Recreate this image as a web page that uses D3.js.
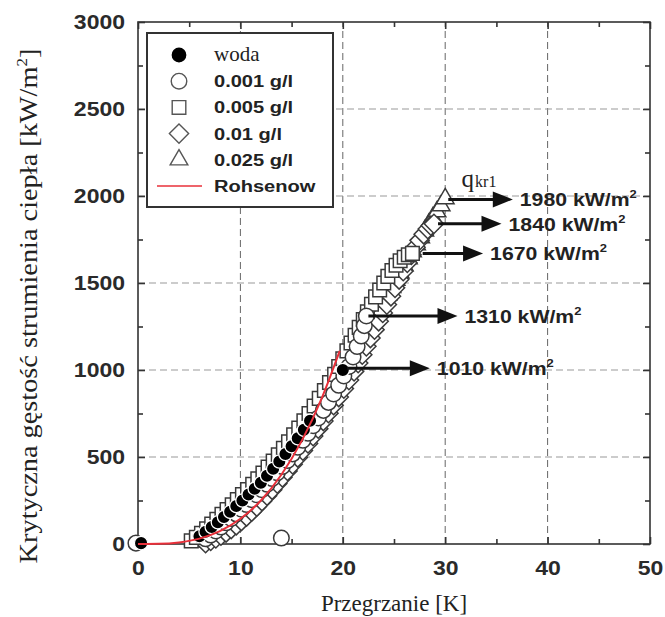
<!DOCTYPE html>
<html>
<head>
<meta charset="utf-8">
<script src="https://cdn.jsdelivr.net/npm/d3@7"></script>
<style>
  html, body { margin: 0; padding: 0; background: #fff; }
  svg { display: block; }
</style>
</head>
<body>
<svg id="chart" width="665" height="617"></svg>
<script>
// Superheat ΔT [K] vs. critical heat flux [kW/m²]
const xTicks = [0, 10, 20, 30, 40, 50];
const yTicks = [0, 500, 1000, 1500, 2000, 2500, 3000];

// woda (pure water)
const woda = [[0.3,5],[6.0,45],[6.6,70],[7.2,98],[7.8,125],[8.4,155],[9.0,185],[9.6,218],[10.2,250],[10.8,285],[11.4,318],[12.0,352],[12.6,392],[13.2,432],[13.8,474],[14.4,517],[15.0,562],[15.6,608],[16.2,656],[16.8,708],[20.0,1000]];
// 0.001 g/l
const c0001 = [[-0.2,5],[14.0,35],[6.6,30],[7.1,52],[7.6,75],[8.1,98],[8.6,122],[9.1,147],[9.6,173],[10.1,200],[10.6,227],[11.1,255],[11.6,283],[12.1,312],[12.6,343],[13.1,376],[13.6,410],[14.1,445],[14.6,480],[15.1,518],[15.6,556],[16.1,596],[16.6,637],[17.1,680],[17.6,724],[18.1,768],[18.6,814],[19.1,862],[19.6,912],[20.1,965],[20.6,1020],[21.0,1075],[21.4,1135],[21.8,1195],[22.1,1255],[22.3,1310]];
// 0.005 g/l
const c0005 = [[5.2,18],[5.7,38],[6.2,62],[6.7,88],[7.2,115],[7.7,142],[8.2,170],[8.7,198],[9.2,226],[9.7,255],[10.2,284],[10.7,313],[11.2,343],[11.7,375],[12.2,408],[12.7,442],[13.2,477],[13.7,513],[14.2,550],[14.7,588],[15.2,627],[15.7,667],[16.2,708],[16.7,750],[17.2,793],[17.7,837],[18.2,882],[18.7,928],[19.2,975],[19.6,1020],[20.0,1065],[20.4,1110],[20.8,1155],[21.2,1200],[21.6,1245],[22.0,1290],[22.4,1335],[22.8,1378],[23.2,1420],[23.6,1460],[24.0,1500],[24.4,1538],[24.8,1572],[25.2,1602],[25.6,1628],[26.0,1648],[26.4,1662],[26.8,1670]];
// 0.01 g/l
const c001 = [[6.6,5],[7.1,18],[7.6,32],[8.1,48],[8.6,66],[9.1,86],[9.6,108],[10.1,132],[10.6,158],[11.1,186],[11.6,215],[12.1,246],[12.6,278],[13.1,312],[13.6,347],[14.1,383],[14.6,420],[15.1,458],[15.6,497],[16.1,537],[16.6,578],[17.1,620],[17.6,663],[18.1,707],[18.6,752],[19.1,798],[19.6,845],[20.1,893],[20.6,942],[21.1,992],[21.5,1040],[21.9,1088],[22.3,1136],[22.7,1184],[23.1,1232],[23.5,1280],[23.9,1328],[24.3,1376],[24.7,1424],[25.1,1472],[25.5,1520],[25.9,1568],[26.3,1616],[26.7,1662],[27.1,1705],[27.5,1745],[27.9,1780],[28.3,1810],[28.6,1830],[28.9,1840]];
// 0.025 g/l
const c0025 = [[6.0,12],[6.5,30],[7.0,50],[7.5,72],[8.0,95],[8.5,120],[9.0,146],[9.5,173],[10.0,201],[10.5,230],[11.0,260],[11.5,291],[12.0,323],[12.5,356],[13.0,390],[13.5,425],[14.0,461],[14.5,498],[15.0,536],[15.5,575],[16.0,615],[16.5,656],[17.0,698],[17.5,741],[18.0,785],[18.5,830],[19.0,876],[19.5,923],[20.0,970],[20.4,1012],[20.8,1054],[21.2,1096],[21.6,1138],[22.0,1180],[22.4,1222],[22.8,1264],[23.2,1306],[23.6,1348],[24.0,1390],[24.4,1432],[24.8,1474],[25.2,1516],[25.6,1558],[26.0,1600],[26.4,1640],[26.8,1680],[27.2,1720],[27.6,1760],[28.0,1800],[28.4,1838],[28.8,1875],[29.2,1910],[29.6,1945],[30.0,1985]];
// Rohsenow correlation
const rohsenow = [[0,0],[2,1],[4,9],[6,31],[8,74],[10,145],[12,250],[14,398],[16,594],[18,846],[19.7,1110]];

// Critical heat flux annotations: value, arrow start ΔT, arrow tip ΔT
const chfValues = [1980, 1840, 1670, 1310, 1010];
const chfStart  = [30.3, 29.3, 27.8, 22.5, 20.4];
const chfTip    = [36.6, 35.5, 33.7, 31.2, 28.5];

const svg = d3.select("#chart");
const x = d3.scaleLinear([0, 50], [138, 650]);
const y = d3.scaleLinear([0, 3000], [544, 22]);

const SANS = "'Liberation Sans', Arial, sans-serif";
const SERIF = "'Liberation Serif', 'Times New Roman', serif";
const INK = "#222";
const STRETCH = 1.18;

// dashed grid
const grid = svg.append("g").attr("stroke-width", 1).attr("stroke-dasharray", "7,4");
grid.selectAll("line.v").data(xTicks.slice(1, -1)).join("line")
  .attr("stroke", "#666")
  .attr("x1", d => x(d)).attr("x2", d => x(d)).attr("y1", y(0)).attr("y2", y(3000));
grid.selectAll("line.h").data(yTicks.slice(1, -1)).join("line")
  .attr("stroke", "#999")
  .attr("x1", x(0)).attr("x2", x(50)).attr("y1", d => y(d)).attr("y2", d => y(d));

// inward ticks on all four sides
const minorX = d3.range(5, 50, 10), minorY = d3.range(250, 3000, 500);
function addAxis(axis, tf, major, minor, labels) {
  const g = svg.append("g").attr("transform", tf);
  g.call(axis.tickValues(major).tickSizeInner(-7).tickSizeOuter(0).tickFormat(labels ? d3.format("d") : ""));
  const gm = svg.append("g").attr("transform", tf);
  gm.call(axis.tickValues(minor).tickSizeInner(-5).tickSizeOuter(0).tickFormat(""));
  [g, gm].forEach(s => {
    s.select(".domain").remove();
    s.selectAll("line").attr("stroke", "#333").attr("stroke-width", 1.6);
  });
  return g;
}
const gx = addAxis(d3.axisBottom(x).tickPadding(17), `translate(0,${y(0)})`, xTicks, minorX, true);
addAxis(d3.axisTop(x), `translate(0,${y(3000)})`, xTicks, minorX, false);
const gy = addAxis(d3.axisLeft(y).tickPadding(11), `translate(${x(0)},0)`, yTicks, minorY, true);
addAxis(d3.axisRight(y), `translate(${x(50)},0)`, yTicks, minorY, false);
[gx, gy].forEach(g => g.selectAll("text")
  .attr("font-family", SANS).attr("font-weight", "bold").attr("font-size", 19.5)
  .attr("fill", "#2a2a2a").attr("transform", `scale(${STRETCH},1)`));

// frame
svg.append("rect").attr("x", x(0)).attr("y", y(3000))
  .attr("width", x(50) - x(0)).attr("height", y(0) - y(3000))
  .attr("fill", "none").attr("stroke", "#333").attr("stroke-width", 1.6);

// marker shapes
const squareDiamond = {
  draw(ctx, size) {
    const r = Math.sqrt(size / 2);
    ctx.moveTo(0, -r); ctx.lineTo(r, 0); ctx.lineTo(0, r); ctx.lineTo(-r, 0); ctx.closePath();
  }
};
const sym = {
  dot: d3.symbol(d3.symbolCircle, 140),
  circle: d3.symbol(d3.symbolCircle, 190),
  square: d3.symbol(d3.symbolSquare, 185),
  diamond: d3.symbol(squareDiamond, 185),
  triangle: d3.symbol(d3.symbolTriangle, 135)
};
function drawSeries(data, shape, fill, stroke, sw) {
  svg.append("g").selectAll("path").data(data).join("path")
    .attr("d", sym[shape]())
    .attr("transform", d => `translate(${x(d[0])},${y(d[1])})`)
    .attr("fill", fill).attr("stroke", stroke).attr("stroke-width", sw);
}
drawSeries(c0025, "triangle", "#fff", "#3a3a3a", 1.5);
drawSeries(c001, "diamond", "#fff", "#3a3a3a", 1.5);
drawSeries(c0005, "square", "#fff", "#3a3a3a", 1.5);
drawSeries(c0001, "circle", "#fff", "#3a3a3a", 1.5);
drawSeries(woda, "dot", "#000", "#fff", 1.3);

// Rohsenow curve
svg.append("path").datum(rohsenow)
  .attr("d", d3.line().x(d => x(d[0])).y(d => y(d[1])).curve(d3.curveMonotoneX))
  .attr("fill", "none").attr("stroke", "#e8303a").attr("stroke-width", 2);

// CHF arrows with value labels
chfValues.forEach((v, i) => {
  const yy = y(v), x0 = x(chfStart[i]), x1 = x(chfTip[i]);
  svg.append("line").attr("x1", x0).attr("x2", x1 - 14).attr("y1", yy).attr("y2", yy)
    .attr("stroke", "#111").attr("stroke-width", 3);
  svg.append("path").attr("d", `M${x1},${yy}L${x1 - 20},${yy - 8}L${x1 - 20},${yy + 8}Z`).attr("fill", "#111");
  const t = svg.append("g").attr("transform", `translate(${x1 + 7},${yy + 7}) scale(${STRETCH},1)`)
    .append("text").attr("font-family", SANS).attr("font-weight", "bold").attr("font-size", 18).attr("fill", INK);
  t.append("tspan").text(`${v} kW/m`);
  t.append("tspan").attr("font-size", 11).attr("dy", -8).text("2");
});

// q_kr1 label
const qk = svg.append("text").attr("x", x(31.6)).attr("y", y(2050)).attr("font-family", SERIF).attr("fill", INK);
qk.append("tspan").attr("font-size", 25).text("q");
qk.append("tspan").attr("font-size", 16).attr("dx", 1).text("kr1");

// legend
const leg = svg.append("g");
leg.append("rect").attr("x", 147).attr("y", 33).attr("width", 186).attr("height", 174)
  .attr("fill", "#fff").attr("stroke", "#333").attr("stroke-width", 2);
const legItems = [
  { label: "woda", shape: "dot", fill: "#000", stroke: "#000", serif: true },
  { label: "0.001 g/l", shape: "circle", fill: "#fff", stroke: "#555" },
  { label: "0.005 g/l", shape: "square", fill: "#fff", stroke: "#555" },
  { label: "0.01 g/l", shape: "diamond", fill: "#fff", stroke: "#555" },
  { label: "0.025 g/l", shape: "triangle", fill: "#fff", stroke: "#555" },
  { label: "Rohsenow", line: true }
];
legItems.forEach((it, i) => {
  const cy = 55 + i * 26.2;
  if (it.line) {
    leg.append("line").attr("x1", 157).attr("x2", 202).attr("y1", cy).attr("y2", cy)
      .attr("stroke", "#e8303a").attr("stroke-width", 1.6);
  } else {
    leg.append("path").attr("d", sym[it.shape]()).attr("transform", `translate(179,${cy})`)
      .attr("fill", it.fill).attr("stroke", it.stroke).attr("stroke-width", 1.4);
  }
  if (it.serif) {
    leg.append("text").attr("x", 214).attr("y", cy + 6).attr("font-family", SERIF)
      .attr("font-size", 21).attr("fill", INK).text(it.label);
  } else {
    leg.append("g").attr("transform", `translate(214,${cy + 6}) scale(${STRETCH},1)`)
      .append("text").attr("font-family", SANS).attr("font-weight", "bold")
      .attr("font-size", 17).attr("fill", INK).text(it.label);
  }
});

// axis titles
svg.append("text").attr("x", 394).attr("y", 611).attr("text-anchor", "middle")
  .attr("font-family", SERIF).attr("font-size", 23).attr("fill", INK).text("Przegrzanie [K]");

const yg = svg.append("g");
const yt = yg.append("text").attr("text-anchor", "middle")
  .attr("font-family", SERIF).attr("font-size", 25).attr("fill", INK);
yt.append("tspan").text("Krytyczna gęstość strumienia ciepła [kW/m");
yt.append("tspan").attr("font-size", 15).attr("dy", -10).text("2");
yt.append("tspan").attr("dy", 10).text("]");
const yw = yt.node().getBBox().width;
yg.attr("transform", `translate(37,306) rotate(-90) scale(${515 / yw},1)`);
</script>
</body>
</html>
